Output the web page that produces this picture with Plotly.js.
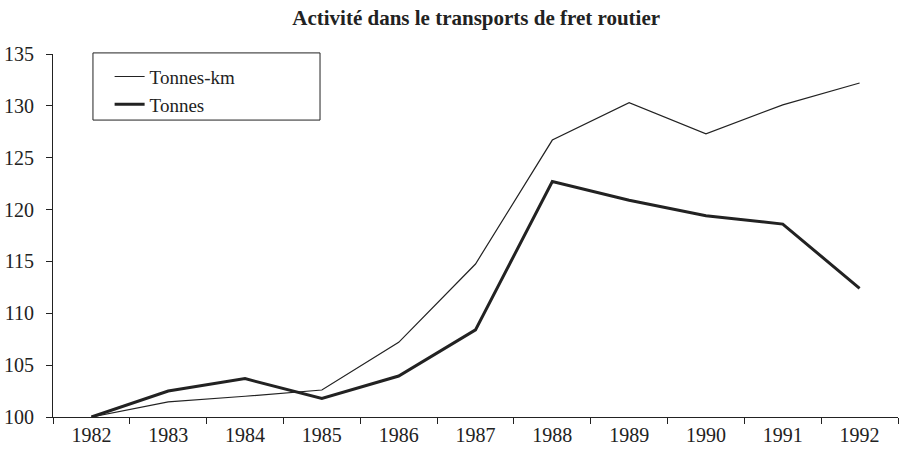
<!DOCTYPE html>
<html>
<head>
<meta charset="utf-8">
<script src="https://cdn.plot.ly/plotly-3.0.1.min.js"></script>
<style>html,body{margin:0;padding:0;background:#fff;}#chart{width:901px;height:452px;}</style>
</head>
<body>
<div id="chart"></div>
<script>
const years = ['1982','1983','1984','1985','1986','1987','1988','1989','1990','1991','1992'];
const tonnesKm = [100, 101.45, 102.0, 102.6, 107.2, 114.75, 126.7, 130.3, 127.3, 130.1, 132.2];
const tonnes = [100, 102.5, 103.7, 101.8, 103.95, 108.4, 122.7, 120.9, 119.4, 118.6, 112.4];
const markerYear = '1986';
const yTicks = [100, 105, 110, 115, 120, 125, 130, 135];

const serif = "'Liberation Serif', 'DejaVu Serif', serif";
const traces = [
  {x: years, y: tonnesKm, name: 'Tonnes-km', type: 'scatter', mode: 'lines',
   line: {color: '#222', width: 1.2}},
  {x: years, y: tonnes, name: 'Tonnes', type: 'scatter', mode: 'lines',
   line: {color: '#222', width: 3}}
];
const layout = {
  width: 901, height: 452,
  margin: {l: 53, r: 3, t: 54, b: 35},
  paper_bgcolor: '#fff', plot_bgcolor: '#fff',
  title: {text: '<b>Activité dans le transports de fret routier</b>',
          font: {family: serif, size: 21, color: '#222'},
          x: 0.5285, xanchor: 'center', y: 0.962, yanchor: 'middle'},
  font: {family: serif, size: 20, color: '#222'},
  xaxis: {type: 'category', range: [-0.5, 10.5], tickson: 'boundaries',
          ticks: 'outside', ticklen: 6, tickcolor: '#222', tickwidth: 1,
          showline: true, linecolor: '#222', linewidth: 1, showgrid: false,
          zeroline: false, fixedrange: true, tickfont: {family: serif, size: 20, color: '#222'}},
  yaxis: {range: [100, 135], tickvals: yTicks, ticks: 'outside', ticklen: 6,
          tickcolor: '#222', tickwidth: 1, showline: true, linecolor: '#222', linewidth: 1,
          showgrid: false, zeroline: false, fixedrange: true, ticklabelstandoff: 8,
          tickfont: {family: serif, size: 20, color: '#222'}},
  showlegend: true,
  legend: {x: 0.067, y: 0.99, xanchor: 'left', yanchor: 'top',
           borderwidth: 0, bgcolor: 'rgba(0,0,0,0)',
           font: {family: serif, size: 19, color: '#222'}, tracegroupgap: 0},
  shapes: [
    {type: 'line', xref: 'x', yref: 'paper', x0: markerYear, x1: markerYear,
     y0: 0, y1: 1, line: {color: '#222', width: 1}},
    {type: 'rect', xref: 'paper', yref: 'paper', x0: 0.0473, x1: 0.316, y0: 0.818, y1: 1.003,
     line: {color: '#222', width: 1}, fillcolor: '#fff', layer: 'above'}
  ]
};
Plotly.newPlot('chart', traces, layout, {displayModeBar: false, staticPlot: true});
</script>
</body>
</html>
